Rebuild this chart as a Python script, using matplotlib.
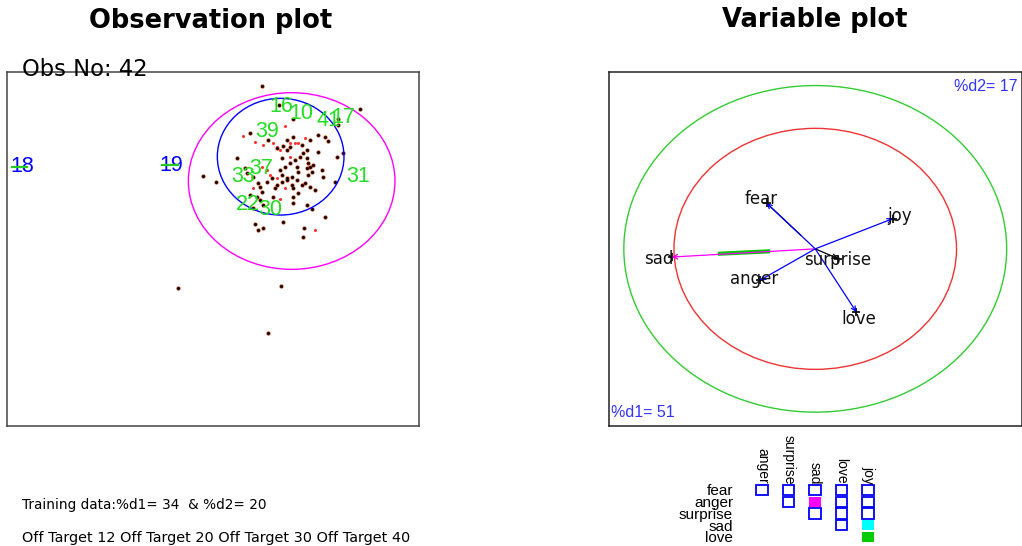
import matplotlib
matplotlib.use("Agg")
import matplotlib.pyplot as plt
from matplotlib.patches import Ellipse, Rectangle
import numpy as np

plt.rcParams['font.family'] = ['Liberation Sans', 'DejaVu Sans']
WIDE = ['DejaVu Sans']

# ---------------- Observation plot data (score units) ----------------
obs_black_x = [-0.63, -0.12, 0.30, 2.30, 1.65, 1.65, 1.05, 1.25, 1.35, 0.80, 0.30, 0.10, 0.00, -0.20,
               0.10, 1.80, 1.05, 1.60, 0.60, 0.50, 0.35, 0.20, 0.05, -0.10, -0.05, 0.10, 0.25, 0.30,
               0.55, 0.65, 0.75, 0.85, 0.80, 0.75, 0.70, 1.15, 1.20, 1.55, 0.80, 0.95, -1.40, -1.15,
               -1.10, -0.90, -0.75, -0.50, -0.70, -0.65, -0.80, -1.00, -0.25, -0.20, -0.30, 0.45,
               0.30, 0.30, 0.70, 0.85, -0.70, -0.60, -0.90, 1.25, 0.00, -0.85, -0.75, -0.60, 0.62,
               0.58, -2.40, -2.02, -3.17, -0.07, -0.45, -1.00, -0.45, 0.20, 0.40, -0.05, 0.45, 0.70,
               0.40, 0.10, 0.90, 0.25, -0.05, -0.35, 0.70, 0.55]
obs_black_y = [2.72, 2.15, 1.72, 2.02, 1.55, 1.72, 1.25, 1.20, 1.08, 1.10, 1.18, 1.10, 0.92, 0.85,
               0.80, 0.70, 0.75, 0.60, 0.70, 0.60, 0.50, 0.40, 0.30, 0.20, 0.05, -0.05, -0.25, -0.35,
               -0.25, -0.20, 0.05, 0.15, 0.30, 0.40, 0.55, 0.20, 0.00, -0.15, -0.30, -0.40, 0.55, 0.25,
               0.10, 0.00, -0.20, -0.15, -0.30, -0.45, -0.60, -0.55, -0.35, -0.25, -0.60, -0.50,
               -0.60, -0.80, -0.85, -0.97, -0.70, -0.85, -0.95, -1.20, -1.37, -1.42, -1.60, -1.55, -1.53,
               -1.82, 0.02, -0.15, -3.35, -3.27, -4.70, 1.30, 1.10, 0.90, 0.30, 0.55, 0.15, 0.25,
               -0.10, -0.10, 0.35, 0.00, -0.15, -0.05, 0.80, 0.95]
obs_red_x = [-1.22, 0.05, -0.85, -0.60, -0.30, -0.20, -0.10, 0.20, 0.35, 0.45, 0.65, -0.40, -0.20,
             -0.90, 0.05, -0.10, 0.95, -0.50, -0.65, 0.20]
obs_red_y = [1.23, 1.53, 1.05, 0.95, 1.00, 0.88, 0.80, 1.00, 1.02, 1.00, 1.15, 0.05, -0.05,
             -0.35, -0.35, -0.68, -1.60, 0.20, 0.30, 0.60]

green_labels = ['16', '10', '41', '17', '39', '37', '33', '31', '22', '30']
green_lx = [-0.05, 0.55, 1.35, 1.80, -0.50, -0.65, -1.22, 2.25, -1.05, -0.40]
green_ly = [2.10, 1.90, 1.68, 1.78, 1.37, 0.25, 0.00, 0.00, -0.82, -0.97]

blue_labels = ['18', '19']
blue_lx = [-7.82, -3.35]
blue_ly = [0.30, 0.34]
seg_x0 = [-8.15, -3.65]
seg_x1 = [-7.70, -3.15]
seg_y = [0.30, 0.36]

# ellipses: (cx, cy, width, height)
outer_ell = (0.25, -0.13, 6.20, 5.30)
inner_ell = (-0.08, 0.60, 3.80, 3.50)

# ---------------- Variable plot data ----------------
variables = ['fear', 'joy', 'sad', 'anger', 'surprise', 'love']
var_x = [-0.345, 0.550, -1.016, -0.392, 0.161, 0.291]
var_y = [0.380, 0.251, -0.068, -0.261, -0.081, -0.524]
var_colors = ['blue', 'blue', '#ff00ff', 'blue', 'black', 'blue']
lab_x = [-0.38, 0.60, -1.11, -0.43, 0.16, 0.31]
lab_y = [0.41, 0.27, -0.087, -0.25, -0.09, -0.585]
green_seg_x = [-0.675, -0.334]
green_seg_y = [-0.040, -0.021]
r_inner = 1.0
r_outer = 1.355

# ---------------- Matrix legend ----------------
mat_cols = ['anger', 'surprise', 'sad', 'love', 'joy']
mat_rows = ['fear', 'anger', 'surprise', 'sad', 'love']
# fill colour per (column, row); None = blue outline
mat_fill = [
    [None],
    [None, None],
    [None, '#ff00ff', None],
    [None, None, None, None],
    [None, None, None, '#00ffff', '#00cc00'],
]

W, H = 1022, 546
fig = plt.figure(figsize=(W / 100, H / 100), dpi=100)

def pax(x0, y0, x1, y1):
    return fig.add_axes([x0 / W, 1 - y1 / H, (x1 - x0) / W, (y1 - y0) / H])

# overlay for titles and footnotes
ov = fig.add_axes([0, 0, 1, 1])
ov.set_xlim(0, W)
ov.set_ylim(H, 0)
ov.axis('off')
ov.text(211, 21, 'Observation plot', ha='center', va='center', fontsize=18.5,
        fontweight='bold', family=WIDE)
ov.text(815, 20, 'Variable plot', ha='center', va='center', fontsize=18.5,
        fontweight='bold', family=WIDE)
ov.text(22, 505, 'Training data:%d1= 34  & %d2= 20', ha='left', va='center',
        fontsize=9.8, family=WIDE)
ov.text(22, 538, 'Off Target 12 Off Target 20 Off Target 30 Off Target 40', ha='left',
        va='center', fontsize=10.4, family=WIDE)

# ---------------- left axes ----------------
ax = pax(6.7, 71.7, 419.3, 426)
ax.set_xlim(-8.30, 4.08)
ax.set_ylim(-7.48, 3.15)
ax.set_xticks([]); ax.set_yticks([])
for s in ax.spines.values():
    s.set_color('#444444'); s.set_linewidth(1.1)
ax.plot(obs_black_x, obs_black_y, 'o', color='#b03000', ms=3.0, mew=0, zorder=2)
ax.plot(obs_black_x, obs_black_y, 'o', color='black', ms=2.0, mew=0, zorder=3)
ax.plot(obs_red_x, obs_red_y, 'o', color='#ff3030', ms=2.2, mew=0, zorder=2)
for (cx, cy, w, h), c in [(outer_ell, '#ff00ff'), (inner_ell, '#0000ff')]:
    ax.add_patch(Ellipse((cx, cy), w, h, fill=False, edgecolor=c, lw=1.0, zorder=4))
for t, x, y in zip(green_labels, green_lx, green_ly):
    ax.text(x, y, t, color='#22dd22', fontsize=15.5, ha='center', va='center', zorder=5)
for t, x, y in zip(blue_labels, blue_lx, blue_ly):
    ax.text(x, y, t, color='#0000ff', fontsize=15.5, ha='center', va='center', zorder=5)
for a, b, y in zip(seg_x0, seg_x1, seg_y):
    ax.plot([a, b], [y, y], color='#22cc22', lw=1.6, zorder=6)
ax.text(22, 69.5, 'Obs No: 42', fontsize=16.3, ha='left', va='center', transform=ov.transData,
        clip_on=False, zorder=7, family=WIDE)

# ---------------- right axes ----------------
bx = pax(609, 71.7, 1021.5, 426)
bx.set_xlim(-1.46, 1.46)
bx.set_ylim(-1.47, 1.47)
bx.set_xticks([]); bx.set_yticks([])
for s in bx.spines.values():
    s.set_color('#222222'); s.set_linewidth(1.1)
bx.add_patch(Ellipse((0, 0), 2 * r_outer, 2 * r_outer, fill=False, edgecolor='#33cc33', lw=1.0))
bx.add_patch(Ellipse((0, 0), 2 * r_inner, 2 * r_inner, fill=False, edgecolor='#ee3333', lw=1.0))
for v, x, y, c in zip(variables, var_x, var_y, var_colors):
    bx.annotate('', xy=(x, y), xytext=(0, 0),
                arrowprops=dict(arrowstyle='->', color=c, lw=0.9, shrinkA=0, shrinkB=0,
                                mutation_scale=8))
# black part on fear arrow
bx.plot([var_x[0], var_x[0] * 0.3], [var_y[0], var_y[0] * 0.3], color='black', lw=0.9)
bx.plot(green_seg_x, green_seg_y, color='#00cc00', lw=3)
bx.plot(var_x, var_y, '+', color='black', ms=6, mew=1.2)
for v, x, y in zip(variables, lab_x, lab_y):
    bx.text(x, y, v, fontsize=12, ha='center', va='center', color='#111111', family=WIDE)
bx.text(0.99, 0.958, '%d2= 17', color='#3333ff', fontsize=11.5, ha='right', va='center',
        transform=bx.transAxes)
bx.text(0.005, 0.037, '%d1= 51', color='#3333ff', fontsize=11.5, ha='left', va='center',
        transform=bx.transAxes)

# ---------------- matrix legend ----------------
mx = pax(748.75, 484.1, 881.25, 542.9)
mx.set_xlim(-0.5, 4.5)
mx.set_ylim(4.5, -0.5)
mx.axis('off')
cw, ch = 0.45, 0.89
for i, col in enumerate(mat_fill):
    for j, fc in enumerate(col):
        if fc is None:
            mx.add_patch(Rectangle((i - cw / 2, j - ch / 2), cw, ch, facecolor='none',
                                   edgecolor='#0000ff', lw=1.3, clip_on=False))
        else:
            mx.add_patch(Rectangle((i - cw / 2, j - ch / 2), cw, ch, facecolor=fc,
                                   edgecolor='none', clip_on=False))
for i, c in enumerate(mat_cols):
    mx.text(i, -0.5, c, rotation=270, ha='center', va='bottom', fontsize=10, clip_on=False)
for j, r in enumerate(mat_rows):
    mx.text(-1.09, j + 0.12, r, ha='right', va='center', fontsize=11, clip_on=False)

fig.savefig('out.png', dpi=100)
